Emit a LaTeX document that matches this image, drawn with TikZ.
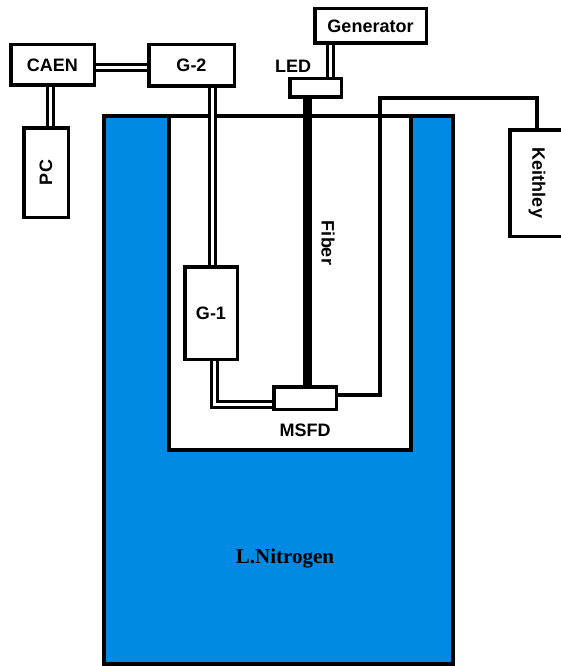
\documentclass[tikz,border=0pt]{standalone}
\usepackage{graphicx}
\usepackage{fontspec}
\setmainfont{Liberation Sans}
\newfontfamily\nitrofont{Liberation Serif}
\usepackage{tikz}
\usetikzlibrary{positioning}
\definecolor{lnblue}{RGB}{0,138,228}

\begin{document}
\begin{tikzpicture}[x=1pt,y=-1pt,
  box/.style={draw,fill=white,line width=3.5pt,inner sep=0pt,font=\fontsize{18}{20}\selectfont\bfseries},
  lbl/.style={inner sep=0pt,font=\fontsize{18}{20}\selectfont\bfseries},
  wire/.style={line width=3.5pt},
  dbl/.style={double,line width=3pt,double distance=3pt}]
\useasboundingbox (0,0) rectangle (561,666);
\clip (0,0) rectangle (561,666);
\fill[lnblue] (104,116.5) rectangle (453,664);
\filldraw[fill=white,line width=4pt] (168.5,116.5) rectangle (410.5,449.5);
\draw[line width=4pt] (104,116.5) rectangle (453,664);
\node[box,minimum width=83.5pt,minimum height=40.5pt] (caen) at (52.5,65) {CAEN};
\node[box,minimum width=85.5pt,minimum height=41.5pt] (g2) at (191.5,65.5) {G-2};
\node[box,minimum width=44.5pt,minimum height=89.5pt] (pc) at (46,172.5) {\rotatebox{90}{PC}};
\node[box,minimum width=111.5pt,minimum height=34.5pt] (gen) at (370.5,26) {Generator};
\node[box,minimum width=51.5pt,minimum height=18.5pt] (led) at (315.5,88) {};
\node[box,minimum width=54.5pt,minimum height=106.5pt] (keith) at (537,183) {\rotatebox{-90}{Keithley}};
\node[box,minimum width=52.5pt,minimum height=92.5pt] (g1) at (211,313) {G-1};
\node[box,minimum width=62.5pt,minimum height=22.5pt] (msfd) at (305,398) {};
\coordinate (bend) at (380,98);
\draw[dbl] ([yshift=-3pt]caen.east) -- ([yshift=-3pt]caen.east -| g2.west);
\draw[dbl] ([xshift=-2.5pt]caen.south) -- ([xshift=-2.5pt]caen.south |- pc.north);
\draw[dbl] ([xshift=20.5pt]g2.south) -- ([xshift=20.5pt]g2.south |- g1.north);
\draw[dbl] ([xshift=-40.5pt]gen.south) -- ([xshift=-40.5pt]gen.south |- led.north);
\draw[dbl] ([xshift=3pt]g1.south) |- ([yshift=-6pt]msfd.west);
\draw[line width=9pt] ([xshift=-8.5pt]led.south) -- ([xshift=-8.5pt]led.south |- msfd.north);
\draw[wire] ([yshift=3pt]msfd.east) -| (bend) -| (keith.north);
\node[lbl] (ledlbl) at (293,66) {LED};
\node[lbl,below=12.5pt of msfd] (msfdlbl) {MSFD};
\node[lbl,rotate=-90] (fiberlbl) at (328,243) {Fiber};
\node[inner sep=0pt,font=\nitrofont\fontsize{21}{24}\selectfont\bfseries] (nitro) at (285,559) {L.Nitrogen};
\end{tikzpicture}
\end{document}
